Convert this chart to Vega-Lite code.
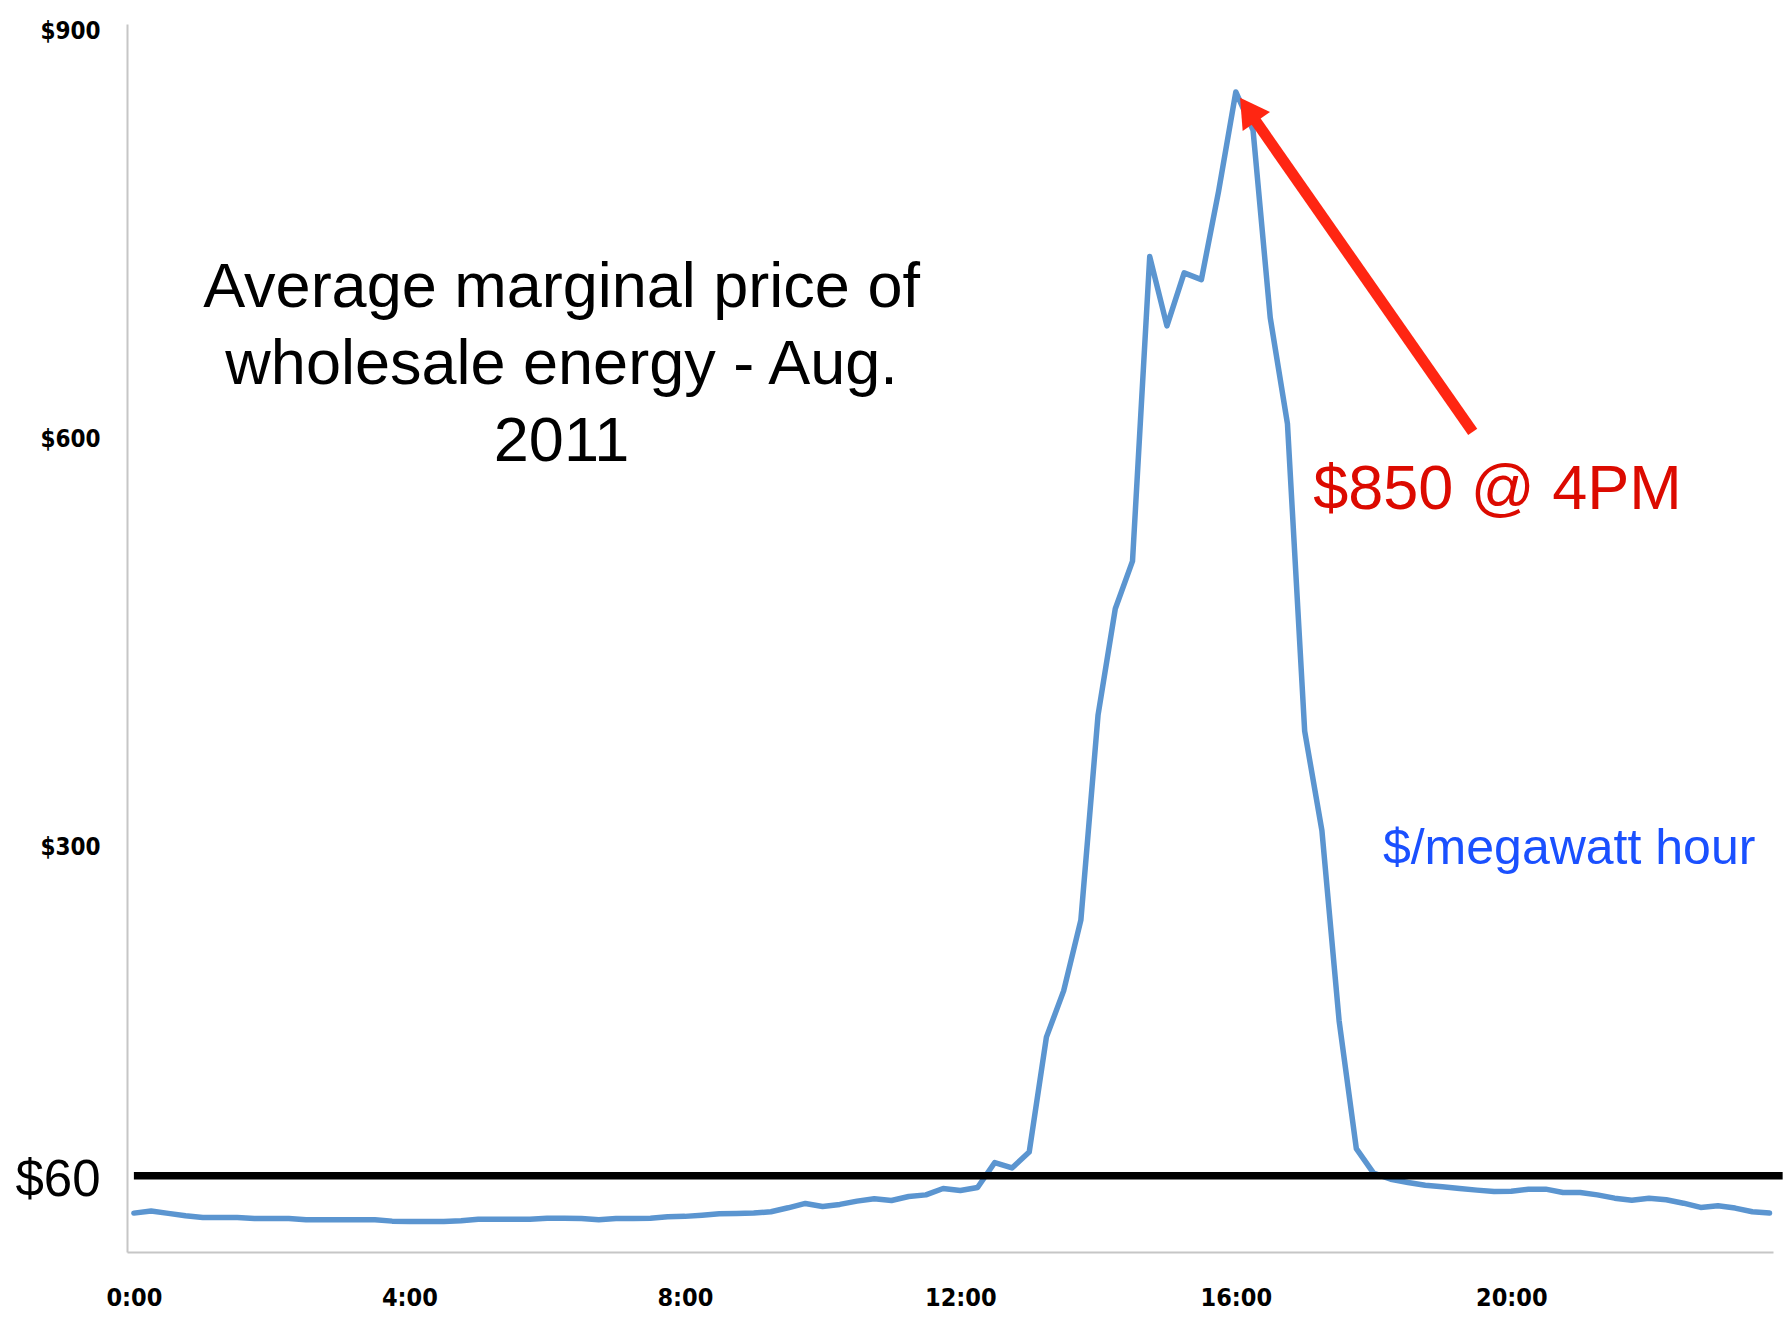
{
  "$schema": "https://vega.github.io/schema/vega-lite/v6.json",
  "width": 1646,
  "height": 1228,
  "autosize": "none",
  "padding": {"left": 127, "top": 24, "right": 13, "bottom": 67},
  "background": "white",
  "config": {"view": {"stroke": null}},
  "encoding": {
    "x": {
      "field": "hour", "type": "quantitative",
      "scale": {"domain": [-0.1, 23.8], "nice": false, "zero": false},
      "axis": {
        "values": [0, 4, 8, 12, 16, 20],
        "labelExpr": "datum.value + ':00'",
        "title": null, "grid": false, "ticks": false,
        "domainColor": "#c6c6c6", "domainWidth": 2,
        "labelFont": "Liberation Sans Narrow, DejaVu Sans Condensed, sans-serif",
        "labelFontWeight": "bold", "labelFontSize": 25, "labelColor": "black",
        "labelPadding": 33, "labelFlush": false, "labelOverlap": false
      }
    },
    "y": {
      "field": "price", "type": "quantitative",
      "scale": {"domain": [0, 903], "nice": false, "zero": false},
      "axis": {
        "values": [56, 300, 600, 900],
        "labelExpr": "datum.value == 56 ? '$60' : '$' + datum.value",
        "title": null, "grid": false, "ticks": false,
        "domainColor": "#c6c6c6", "domainWidth": 2,
        "labelFont": {"condition": {"test": "datum.value == 56", "value": "Liberation Sans, Arial, sans-serif"}, "value": "Liberation Sans Narrow, DejaVu Sans Condensed, sans-serif"},
        "labelFontWeight": {"condition": {"test": "datum.value == 56", "value": "normal"}, "value": "bold"},
        "labelFontSize": {"condition": {"test": "datum.value == 56", "value": 51}, "value": 24},
        "labelOffset": {"condition": {"test": "datum.value == 56", "value": 5}, "value": 3},
        "labelColor": "black",
        "labelPadding": 27, "labelOverlap": false, "labelFlush": false
      }
    }
  },
  "layer": [
    {
      "data": {"values": [
        {"hour": 0, "price": 28.6}, {"hour": 0.25, "price": 30.1}, {"hour": 0.5, "price": 28.4}, {"hour": 0.75, "price": 26.6},
        {"hour": 1, "price": 25.4}, {"hour": 1.25, "price": 25.4}, {"hour": 1.5, "price": 25.4}, {"hour": 1.75, "price": 24.7},
        {"hour": 2, "price": 24.7}, {"hour": 2.25, "price": 24.7}, {"hour": 2.5, "price": 23.7}, {"hour": 2.75, "price": 23.7},
        {"hour": 3, "price": 23.7}, {"hour": 3.25, "price": 23.7}, {"hour": 3.5, "price": 23.7}, {"hour": 3.75, "price": 22.7},
        {"hour": 4, "price": 22.5}, {"hour": 4.25, "price": 22.5}, {"hour": 4.5, "price": 22.5}, {"hour": 4.75, "price": 23.0},
        {"hour": 5, "price": 24.0}, {"hour": 5.25, "price": 24.0}, {"hour": 5.5, "price": 24.0}, {"hour": 5.75, "price": 24.0},
        {"hour": 6, "price": 24.9}, {"hour": 6.25, "price": 24.9}, {"hour": 6.5, "price": 24.7}, {"hour": 6.75, "price": 23.7},
        {"hour": 7, "price": 24.7}, {"hour": 7.25, "price": 24.7}, {"hour": 7.5, "price": 24.9}, {"hour": 7.75, "price": 25.9},
        {"hour": 8, "price": 26.2}, {"hour": 8.25, "price": 27.1}, {"hour": 8.5, "price": 28.1}, {"hour": 8.75, "price": 28.4},
        {"hour": 9, "price": 28.6}, {"hour": 9.25, "price": 29.6}, {"hour": 9.5, "price": 32.5}, {"hour": 9.75, "price": 35.7},
        {"hour": 10, "price": 33.5}, {"hour": 10.25, "price": 35.0}, {"hour": 10.5, "price": 37.4}, {"hour": 10.75, "price": 39.1},
        {"hour": 11, "price": 37.9}, {"hour": 11.25, "price": 40.8}, {"hour": 11.5, "price": 42.0}, {"hour": 11.75, "price": 46.7},
        {"hour": 12, "price": 45.2}, {"hour": 12.25, "price": 47.4}, {"hour": 12.5, "price": 65.8}, {"hour": 12.75, "price": 61.8},
        {"hour": 13, "price": 73.5}, {"hour": 13.25, "price": 158}, {"hour": 13.5, "price": 192}, {"hour": 13.75, "price": 244},
        {"hour": 14, "price": 395}, {"hour": 14.25, "price": 473}, {"hour": 14.5, "price": 508}, {"hour": 14.75, "price": 732},
        {"hour": 15, "price": 681}, {"hour": 15.25, "price": 720}, {"hour": 15.5, "price": 715}, {"hour": 15.75, "price": 780},
        {"hour": 16, "price": 853}, {"hour": 16.25, "price": 825}, {"hour": 16.5, "price": 687}, {"hour": 16.75, "price": 609},
        {"hour": 17, "price": 383}, {"hour": 17.25, "price": 310}, {"hour": 17.5, "price": 170}, {"hour": 17.75, "price": 76},
        {"hour": 18, "price": 58}, {"hour": 18.25, "price": 53.5}, {"hour": 18.5, "price": 51.1}, {"hour": 18.75, "price": 49.1},
        {"hour": 19, "price": 47.9}, {"hour": 19.25, "price": 46.7}, {"hour": 19.5, "price": 45.5}, {"hour": 19.75, "price": 44.5},
        {"hour": 20, "price": 44.7}, {"hour": 20.25, "price": 46.2}, {"hour": 20.5, "price": 46.2}, {"hour": 20.75, "price": 43.8},
        {"hour": 21, "price": 43.8}, {"hour": 21.25, "price": 42.0}, {"hour": 21.5, "price": 39.6}, {"hour": 21.75, "price": 38.1},
        {"hour": 22, "price": 39.6}, {"hour": 22.25, "price": 38.4}, {"hour": 22.5, "price": 35.9}, {"hour": 22.75, "price": 32.8},
        {"hour": 23, "price": 34.0}, {"hour": 23.25, "price": 32.3}, {"hour": 23.5, "price": 29.6}, {"hour": 23.75, "price": 28.6}
      ]},
      "mark": {"type": "line", "color": "#5b95d0", "strokeWidth": 5.5, "strokeJoin": "round", "strokeCap": "round"}
    },
    {
      "data": {"values": [{"hour": 0, "hour2": 23.94, "price": 56}]},
      "mark": {"type": "rule", "color": "black", "strokeWidth": 7.5, "clip": false},
      "encoding": {"x2": {"field": "hour2"}}
    },
    {
      "data": {"values": [{"hour": 19.44, "price": 603, "hour2": 16.27, "price2": 833}]},
      "mark": {"type": "rule", "color": "#ff2612", "strokeWidth": 11, "strokeCap": "butt"},
      "encoding": {"x2": {"field": "hour2"}, "y2": {"field": "price2"}}
    },
    {
      "data": {"values": [{"hour": 16.18, "price": 840}]},
      "mark": {"type": "point", "shape": "triangle-up", "filled": true, "size": 1100, "angle": 325.5, "color": "#ff2612", "opacity": 1, "strokeWidth": 0}
    },
    {
      "data": {"values": [{"hour": 6.21, "price": 709, "label": "Average marginal price of\nwholesale energy - Aug.\n2011"}]},
      "mark": {"type": "text", "font": "Liberation Sans, Arial, sans-serif", "fontSize": 63, "lineHeight": 77, "lineBreak": "\n", "align": "center", "baseline": "middle", "color": "black"},
      "encoding": {"text": {"field": "label"}}
    },
    {
      "data": {"values": [{"hour": 19.8, "price": 560, "label": "$850 @ 4PM"}]},
      "mark": {"type": "text", "font": "Liberation Sans, Arial, sans-serif", "fontSize": 63, "align": "center", "baseline": "middle", "color": "#dc0a00"},
      "encoding": {"text": {"field": "label"}}
    },
    {
      "data": {"values": [{"hour": 20.84, "price": 296, "label": "$/megawatt hour"}]},
      "mark": {"type": "text", "font": "Liberation Sans, Arial, sans-serif", "fontSize": 50, "align": "center", "baseline": "middle", "color": "#1a50ff"},
      "encoding": {"text": {"field": "label"}}
    }
  ]
}
